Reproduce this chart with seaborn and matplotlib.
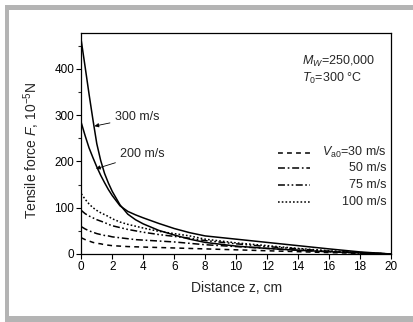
import numpy as np
import pandas as pd
import matplotlib
matplotlib.use("Agg")
import matplotlib.pyplot as plt
import seaborn as sns
from matplotlib.patches import Rectangle
from matplotlib.ticker import MultipleLocator

# distance along the fibre (cm) and tensile force (10^-5 N)
z = [0, 0.25, 0.5, 0.75, 1, 1.25, 1.5, 1.75, 2, 2.5, 3, 3.5, 4, 5, 6, 7, 8, 10, 12, 14, 16, 18, 20]
f_300 = [460, 403, 345, 290, 238, 202, 174, 153, 135, 106, 86, 74, 65, 51, 41, 32, 25, 17, 12, 8, 5, 2.5, 0]
f_200 = [283, 255, 229, 208, 188, 170, 154, 139, 126, 104, 92, 84.5, 78, 66, 55, 46, 39, 32, 25, 18, 11, 4.5, 0]
f_100 = [130, 118, 108, 100, 94, 89, 85, 81, 76, 69, 64, 60, 56, 49, 44, 39, 32, 24, 18, 12, 7, 3, 0]
f_75 = [94, 87, 82, 78, 74, 71, 68, 64, 61, 57, 53, 50, 47, 42, 38, 34, 29, 22, 16, 11, 6, 3, 0]
f_50 = [59, 54, 50, 47, 44, 42, 40, 39, 37, 35, 33, 31, 30, 28, 26, 23, 20, 16, 12, 8, 5, 2, 0]
f_30 = [35, 31, 28, 25, 23, 22, 20, 19, 18, 17, 16, 15.5, 15, 14, 13, 12, 11, 9, 7, 5, 3, 1.5, 0]

speeds = ["300", "200", "100", "75", "50", "30"]
series = [f_300, f_200, f_100, f_75, f_50, f_30]
legend_labels = ["$V_{\\mathrm{a0}}$=30 m/s", "50 m/s", "75 m/s", "100 m/s"]

df = pd.concat(
    [pd.DataFrame({"z": z, "F": vals, "V": s}) for s, vals in zip(speeds, series)],
    ignore_index=True,
)

dash_map = {
    "300": "",
    "200": "",
    "100": (1.2, 1.5),
    "75": (5, 1.8, 1.2, 1.8, 1.2, 1.8),
    "50": (5, 2, 1.2, 2),
    "30": (3.5, 3),
}

sns.set_theme(style="ticks")
plt.rcParams["font.family"] = ["Liberation Sans", "DejaVu Sans"]
plt.rcParams["mathtext.fontset"] = "custom"
plt.rcParams["mathtext.rm"] = "Liberation Sans"
plt.rcParams["mathtext.it"] = "Liberation Sans:italic"
plt.rcParams["lines.scale_dashes"] = False

fig = plt.figure(figsize=(4.14, 3.22), dpi=100)
ax = fig.add_axes([0.1964, 0.2112, 0.748, 0.6863])

# grey frame
gray = "#b4b4b4"
fig.add_artist(Rectangle((5 / 414, 1 - 10 / 322), 1, 5 / 322, transform=fig.transFigure, color=gray, lw=0))
fig.add_artist(Rectangle((5 / 414, 0), 4.3 / 414, 1 - 5 / 322, transform=fig.transFigure, color=gray, lw=0))
fig.add_artist(Rectangle((5 / 414, 0), 1, 6 / 322, transform=fig.transFigure, color=gray, lw=0))

sns.lineplot(
    data=df, x="z", y="F", style="V", dashes=dash_map, color="black",
    linewidth=1.1, legend=False, sort=False, ax=ax,
)

ax.set_xlim(0, 20)
ax.set_ylim(0, 477)
ax.xaxis.set_major_locator(MultipleLocator(2))
ax.yaxis.set_major_locator(MultipleLocator(100))
ax.yaxis.set_minor_locator(MultipleLocator(50))
ax.tick_params(axis="both", which="major", direction="out", length=3.5, width=0.8,
               labelsize=8.5, pad=1.5, colors="black")
ax.tick_params(axis="y", which="minor", direction="out", length=2, width=0.8)
for sp in ax.spines.values():
    sp.set_visible(True)
    sp.set_linewidth(0.9)
    sp.set_color("black")

ax.set_xlabel("Distance z, cm", fontsize=10, labelpad=6)
ax.set_ylabel("Tensile force $F$, 10$^{-5}$N", fontsize=10)
ax.yaxis.set_label_coords(-0.127, 0.47)

# curve labels with arrows
ax.annotate("300 m/s", xy=(0.85, 276), xytext=(2.15, 295), fontsize=9, va="center",
            arrowprops=dict(arrowstyle="-|>", color="black", lw=0.6, mutation_scale=6, shrinkA=1, shrinkB=0))
ax.annotate("200 m/s", xy=(0.95, 184), xytext=(2.5, 215), fontsize=9, va="center",
            arrowprops=dict(arrowstyle="-|>", color="black", lw=0.6, mutation_scale=6, shrinkA=1, shrinkB=0))

ax.text(0.712, 0.873, "$M_W$=250,000", transform=ax.transAxes, fontsize=9, va="center")
ax.text(0.713, 0.796, "$T_0$=300 °C", transform=ax.transAxes, fontsize=9, va="center")

# legend drawn by hand so the labels are right-aligned
leg_rows = [0.459, 0.389, 0.314, 0.235]
leg_styles = ["30", "50", "75", "100"]
for ypos, key, lab in zip(leg_rows, leg_styles, legend_labels):
    ax.plot([0.635, 0.738], [ypos, ypos], transform=ax.transAxes, color="black",
            lw=1.1, dashes=dash_map[key])
    ax.text(0.987, ypos, lab, transform=ax.transAxes, fontsize=9, ha="right", va="center")

fig.savefig("out.png", dpi=100)
